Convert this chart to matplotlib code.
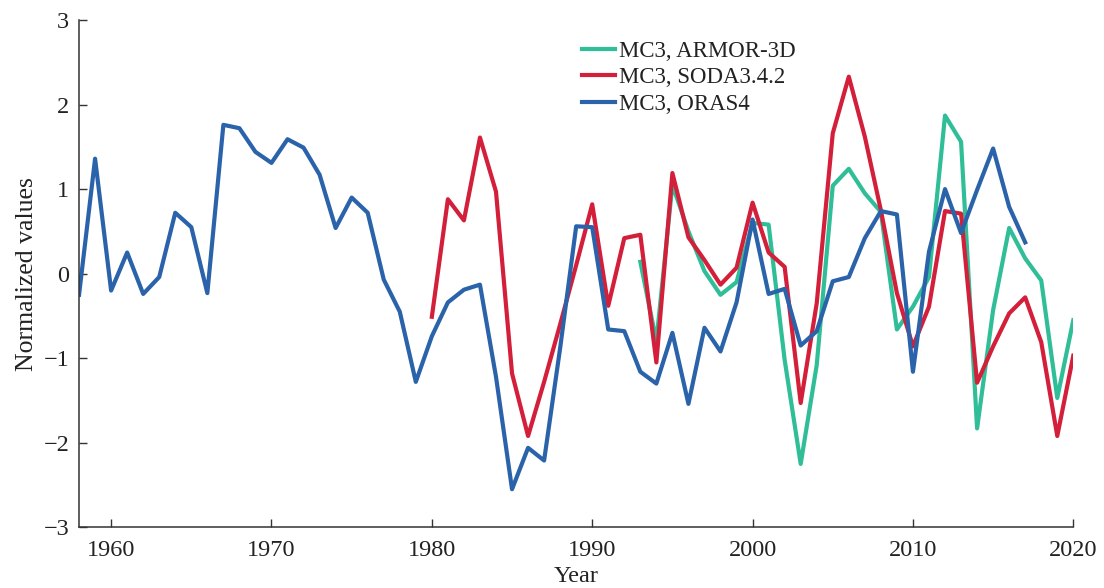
import numpy as np
import matplotlib
matplotlib.use("Agg")
import matplotlib.pyplot as plt

plt.rcParams['font.family'] = ['Liberation Serif', 'DejaVu Serif']

# ORAS4, 1958-2017
years_oras = np.arange(1958, 2018)
oras = [-0.25, 1.36, -0.20, 0.25, -0.24, -0.04, 0.72, 0.55, -0.23, 1.76,
        1.72, 1.44, 1.31, 1.59, 1.49, 1.17, 0.54, 0.90, 0.72, -0.07,
        -0.45, -1.28, -0.74, -0.34, -0.19, -0.13, -1.22, -2.55, -2.06, -2.21,
        -0.88, 0.56, 0.55, -0.66, -0.68, -1.16, -1.30, -0.70, -1.54, -0.64,
        -0.92, -0.34, 0.64, -0.24, -0.18, -0.85, -0.68, -0.09, -0.04, 0.42,
        0.74, 0.70, -1.16, 0.26, 1.00, 0.48, 0.99, 1.48, 0.79, 0.37]

# SODA3.4.2, 1980-2020
years_soda = np.arange(1980, 2021)
soda = [-0.51, 0.88, 0.63, 1.61, 0.97, -1.18, -1.92, -1.28, -0.60, 0.10,
        0.82, -0.38, 0.42, 0.46, -1.05, 1.19, 0.43, 0.16, -0.13, 0.07,
        0.84, 0.25, 0.08, -1.53, -0.35, 1.66, 2.33, 1.62, 0.75, -0.23,
        -0.86, -0.39, 0.74, 0.71, -1.29, -0.86, -0.47, -0.28, -0.81, -1.92,
        -0.97]

# ARMOR-3D, 1993-2020
years_armor = np.arange(1993, 2021)
armor = [0.14, -0.80, 1.05, 0.50, 0.03, -0.25, -0.10, 0.60, 0.58, -1.02,
         -2.25, -1.08, 1.04, 1.24, 0.95, 0.73, -0.66, -0.39, -0.04, 1.87,
         1.56, -1.83, -0.43, 0.54, 0.18, -0.08, -1.47, -0.55]

labels = ['MC3, ARMOR-3D', 'MC3, SODA3.4.2', 'MC3, ORAS4']
colors = ['#2fbe97', '#d31f3a', '#2b63ab']

fig = plt.figure(figsize=(11.04, 5.88), dpi=100)
ax = fig.add_axes([0.0716, 0.1032, 0.9006, 0.8628])

ax.plot(years_armor, armor, color=colors[0], lw=3.0, label=labels[0])
ax.plot(years_soda, soda, color=colors[1], lw=3.0, label=labels[1])
ax.plot(years_oras, oras, color=colors[2], lw=3.0, label=labels[2])

ax.set_xlim(1958, 2020)
ax.set_ylim(-3, 3)
ax.set_xticks(np.arange(1960, 2021, 10))
ax.set_yticks(np.arange(-3, 4, 1))

for s in ['top', 'right']:
    ax.spines[s].set_visible(False)
for s in ['left', 'bottom']:
    ax.spines[s].set_linewidth(1.1)
    ax.spines[s].set_color('#333333')

ax.tick_params(axis='both', direction='in', length=6, width=1.0,
               colors='#333333', labelcolor='#222222', labelsize=17.5)
ax.tick_params(axis='x', pad=9)
ax.tick_params(axis='y', pad=7)

ax.set_xlabel('Year', fontsize=17.5, color='#222222')
ax.set_ylabel('Normalized values', fontsize=18.5, color='#222222')
ax.xaxis.set_label_coords(0.5, -0.076)
ax.yaxis.set_label_coords(-0.041, 0.5)

ax.legend(loc='upper left', bbox_to_anchor=(0.5056, 0.959), frameon=False,
          fontsize=16.5, handlelength=1.44, handletextpad=0.19,
          labelspacing=0.24, borderpad=0, borderaxespad=0,
          labelcolor='#222222')

fig.savefig('out.png', dpi=100)
